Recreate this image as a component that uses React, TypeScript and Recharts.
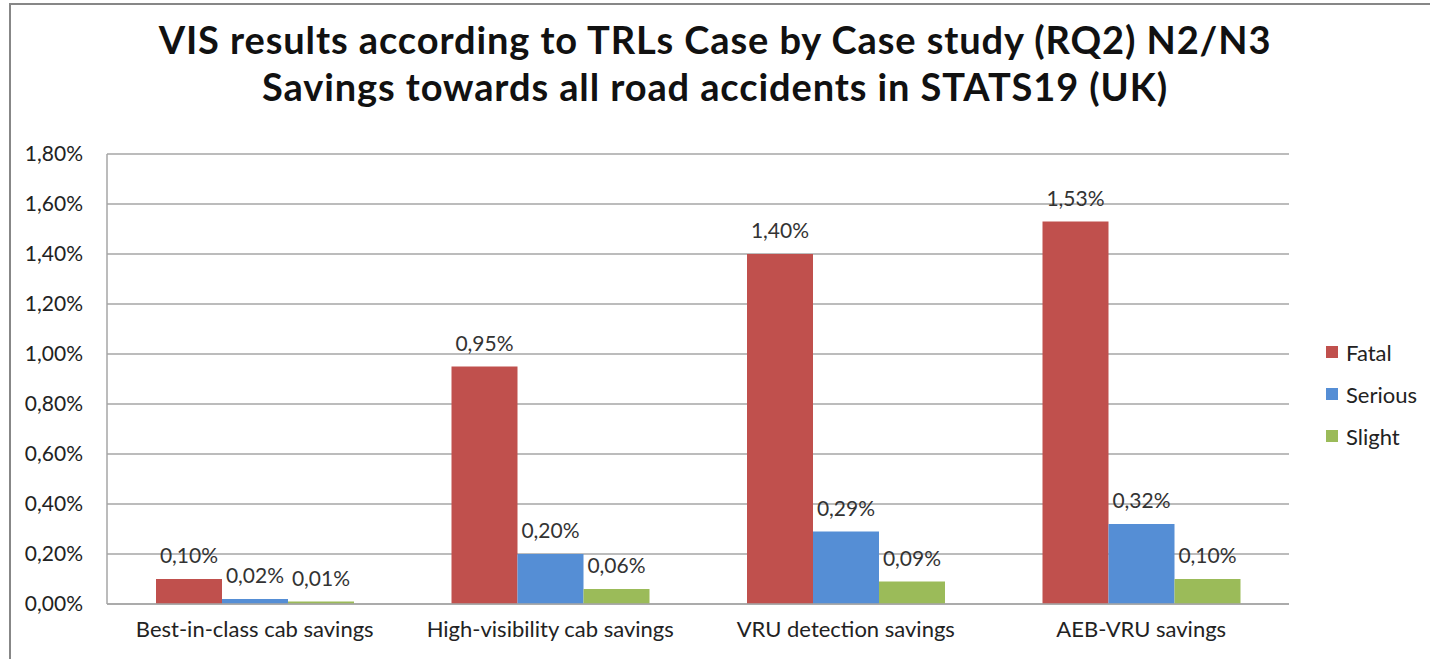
import React from "react";
import {
  BarChart,
  Bar,
  XAxis,
  YAxis,
  CartesianGrid,
  LabelList,
} from "recharts";

// categories and series (fractions of a percent)
const categories = [
  "Best-in-class cab savings",
  "High-visibility cab savings",
  "VRU detection savings",
  "AEB-VRU savings",
];
const fatal = [0.1, 0.95, 1.4, 1.53];
const serious = [0.02, 0.2, 0.29, 0.32];
const slight = [0.01, 0.06, 0.09, 0.1];
const yTicks = [0, 0.2, 0.4, 0.6, 0.8, 1.0, 1.2, 1.4, 1.6, 1.8];

const seriesInfo = [
  { key: "fatal", name: "Fatal", color: "#C0504D" },
  { key: "serious", name: "Serious", color: "#558ED5" },
  { key: "slight", name: "Slight", color: "#9BBB59" },
];

const font = "Lato, 'Open Sans', sans-serif";

const pct = (v: number) => v.toFixed(2).replace(".", ",") + "%";

const App = () => {
  const data = categories.map((name, i) => ({
    name,
    fatal: fatal[i],
    serious: serious[i],
    slight: slight[i],
  }));

  return (
    <div
      style={{
        position: "absolute",
        left: 0,
        top: 0,
        width: 1430,
        height: 659,
        background: "#fff",
        overflow: "hidden",
      }}
    >
      {/* outer chart frame */}
      <div
        style={{
          position: "absolute",
          left: 9,
          top: 3,
          width: 1440,
          height: 700,
          border: "2px solid #878787",
        }}
      />
      <div
        style={{
          position: "absolute",
          left: 0,
          top: 16,
          width: 1430,
          textAlign: "center",
          fontFamily: font,
          fontWeight: 700,
          fontSize: 38,
          letterSpacing: 0.9,
          lineHeight: "47px",
          color: "#111",
        }}
      >
        VIS results according to TRLs Case by Case study (RQ2) N2/N3
        <br />
        Savings towards all road accidents in STATS19 (UK)
      </div>
      <BarChart
        width={1430}
        height={659}
        data={data}
        margin={{ top: 154, right: 141, left: 0, bottom: 0 }}
        barCategoryGap={49}
        barGap={0}
        style={{ position: "absolute", left: 0, top: 0 }}
      >
        <CartesianGrid vertical={false} stroke="#a6a6a6" strokeWidth={1.5} />
        <XAxis
          dataKey="name"
          height={55}
          tickLine={false}
          axisLine={{ stroke: "#a6a6a6", strokeWidth: 1.5 }}
          tickSize={0}
          tickMargin={17}
          tick={{ fontFamily: font, fontSize: 22, fill: "#222" }}
        />
        <YAxis
          width={107}
          domain={[0, 1.8]}
          ticks={yTicks}
          tickFormatter={pct}
          tickLine={false}
          axisLine={{ stroke: "#a6a6a6", strokeWidth: 1.5 }}
          tickSize={0}
          tickMargin={24}
          tick={{ fontFamily: font, fontSize: 21, fill: "#222" }}
        />
        {seriesInfo.map((s) => (
          <Bar
            key={s.key}
            dataKey={s.key}
            name={s.name}
            fill={s.color}
            isAnimationActive={false}
          >
            <LabelList
              dataKey={s.key}
              position="top"
              offset={16}
              formatter={(v: any) => pct(Number(v))}
              style={{ fontFamily: font, fontSize: 21, fill: "#333" }}
            />
          </Bar>
        ))}
      </BarChart>
      {/* legend */}
      <div
        style={{
          position: "absolute",
          left: 1326,
          top: 331,
          fontFamily: font,
          fontSize: 22,
          color: "#222",
        }}
      >
        {seriesInfo.map((s) => (
          <div
            key={s.key}
            style={{ display: "flex", alignItems: "center", height: 42 }}
          >
            <span
              style={{
                width: 12,
                height: 12,
                background: s.color,
                display: "inline-block",
                marginRight: 8,
              }}
            />
            {s.name}
          </div>
        ))}
      </div>
    </div>
  );
};

export default App;
